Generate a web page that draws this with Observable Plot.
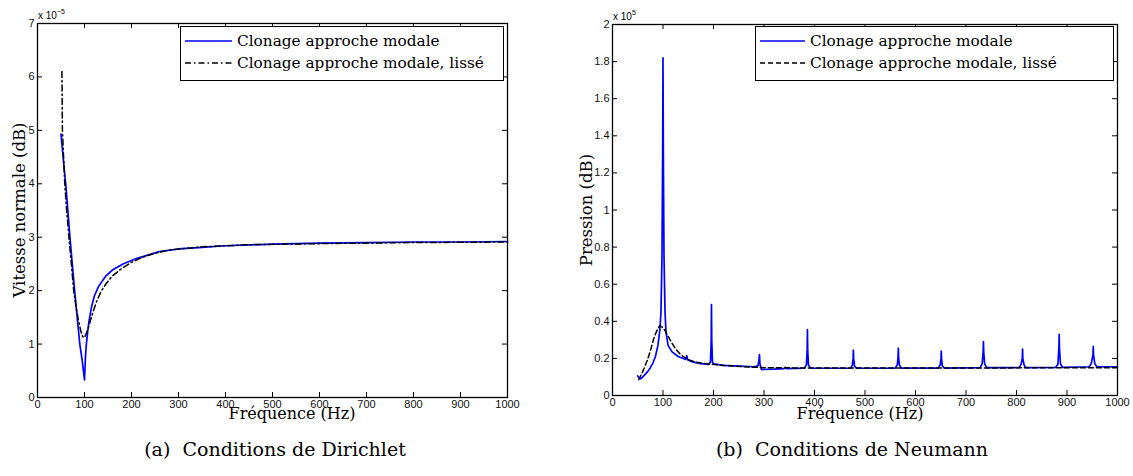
<!DOCTYPE html>
<html><head><meta charset="utf-8">
<script src="https://cdn.jsdelivr.net/npm/d3@7"></script>
<script src="https://cdn.jsdelivr.net/npm/@observablehq/plot@0.6"></script>
<style>
body{margin:0;background:#fff;}
#wrap{position:relative;width:1133px;height:476px;overflow:hidden;font-family:"DejaVu Serif",serif;color:#000;}
.leg{position:absolute;border:1.2px solid #000;background:#fff;box-sizing:border-box;font-size:15.3px;}
.row{position:absolute;left:4px;display:flex;align-items:center;height:20px;}
.row svg{margin-right:5px;}
.exp{position:absolute;font-family:"Liberation Sans",sans-serif;font-size:10px;}
.exp sup{font-size:7px;vertical-align:5px;}
.ylab{position:absolute;transform:translate(-50%,-50%) rotate(-90deg);font-size:16.5px;white-space:nowrap;}
.xlab{position:absolute;transform:translate(-50%,-50%);font-size:16px;white-space:nowrap;}
.cap{position:absolute;transform:translate(-50%,-50%);font-size:19px;white-space:pre;}
</style></head>
<body><div id="wrap"></div>
<script>
// ---------- data (y values in units of the axis multiplier) ----------
const xTicks = [0,100,200,300,400,500,600,700,800,900,1000];
const dirYTicks = [0,1,2,3,4,5,6,7];
const neuYTicks = [0,0.2,0.4,0.6,0.8,1,1.2,1.4,1.6,1.8,2];

// (a) Dirichlet — x1e-5
const dirBlueFreq = [50,55,60,65,69,74,79,85,90,95,100,102,104,107,110,115,121,130,145,160,182,210,259,300,350,400,500,600,700,800,900,1000];
const dirBlue     = [4.93,4.45,4.0,3.45,3.0,2.5,2.0,1.45,1.0,0.7,0.33,0.75,1.0,1.25,1.45,1.7,1.9,2.08,2.27,2.39,2.5,2.6,2.73,2.78,2.81,2.84,2.87,2.89,2.9,2.91,2.91,2.92];
const dirSmoothFreq = [52,53,55.5,58,62,67,72,77,82,87,92,96,100,104,108,113,118,125,135,145,160,180,200,225,250,280,350,450,600,800,1000];
const dirSmooth     = [6.1,5.0,4.5,4.0,3.5,3.0,2.5,2.0,1.7,1.45,1.25,1.14,1.12,1.2,1.3,1.45,1.6,1.78,1.98,2.12,2.28,2.42,2.53,2.63,2.7,2.76,2.82,2.86,2.88,2.9,2.91];

// (b) Neumann — x1e5
const neuBlueFreq = [50,53,56,60,65,70,75,80,85,90,94,96,98,99.3,100,100.7,102,104,106,110,118,130,145,147,149,160,175,190,194,195.5,196,196.5,198,200,220,250,280,288,290,291,292,295,320,340,342,344,380,384,385.5,386,386.5,388,392,472,475,476.5,477,477.5,479,483,560,564,565.5,566,566.5,568,572,645,649,650.5,651,651.5,653,657,728,732,734,734.5,735,737,741,805,809,811.5,812,812.5,815,818,878,882,884,884.5,885,887,891,944,948,951.5,952,952.5,955,959,1000];
const neuBlue     = [0.105,0.095,0.09,0.1,0.115,0.13,0.15,0.175,0.21,0.27,0.36,0.45,0.75,1.3,1.82,1.3,0.75,0.45,0.34,0.27,0.235,0.21,0.195,0.215,0.192,0.18,0.172,0.168,0.18,0.3,0.49,0.3,0.18,0.17,0.162,0.158,0.155,0.16,0.19,0.22,0.17,0.14,0.142,0.145,0.152,0.145,0.148,0.165,0.25,0.355,0.25,0.165,0.147,0.148,0.165,0.2,0.245,0.2,0.16,0.147,0.148,0.165,0.21,0.255,0.21,0.165,0.148,0.148,0.165,0.2,0.24,0.2,0.16,0.148,0.15,0.17,0.24,0.29,0.24,0.17,0.15,0.15,0.168,0.2,0.25,0.2,0.165,0.15,0.152,0.17,0.26,0.33,0.26,0.17,0.152,0.155,0.172,0.22,0.265,0.22,0.172,0.155,0.155];
const neuSmoothFreq = [52,60,69,76,82,88,93,98,104,110,116,125,135,148,165,190,220,260,300,400,600,800,1000];
const neuSmooth     = [0.085,0.13,0.19,0.25,0.31,0.35,0.375,0.37,0.35,0.32,0.29,0.25,0.22,0.195,0.18,0.17,0.162,0.155,0.15,0.148,0.148,0.149,0.15];

const legendLabels = ["Clonage approche modale","Clonage approche modale, lissé"];
const xLabel = "Fréquence (Hz)";
const captions = ["(a)  Conditions de Dirichlet","(b)  Conditions de Neumann"];
const yLabels = ["Vitesse normale (dB)","Pression (dB)"];

// ---------- drawing ----------
const wrap = document.getElementById("wrap");
const toRows = (fs, vs) => fs.map((f,i)=>({f, v: vs[i]}));

function panel({left, width, height, mL, mR, mT, mB, yDomain, yTicks, blue, smooth, dash}) {
  const iW = width - mL - mR, iH = height - mT - mB, tk = 5;
  const svg = Plot.plot({
    width, height, marginLeft: mL, marginRight: mR, marginTop: mT, marginBottom: mB,
    style: {fontFamily: "Liberation Sans, Arial, sans-serif", fontSize: "11px", background: "transparent", overflow: "visible"},
    x: {domain: [0,1000]},
    y: {domain: yDomain},
    marks: [
      Plot.line(blue, {x: "f", y: "v", stroke: "#0000ff", strokeWidth: 1.7}),
      Plot.line(smooth, {x: "f", y: "v", stroke: "#000", strokeWidth: 1.5, strokeDasharray: dash}),
      Plot.tickX(xTicks, {x: d=>d, insetTop: iH - tk, stroke: "#000"}),
      Plot.tickX(xTicks, {x: d=>d, insetBottom: iH - tk, stroke: "#000"}),
      Plot.tickY(yTicks, {y: d=>d, insetRight: iW - tk, stroke: "#000"}),
      Plot.tickY(yTicks, {y: d=>d, insetLeft: iW - tk, stroke: "#000"}),
      Plot.axisX(xTicks, {tickSize: 0, tickPadding: 3, label: null, tickFormat: d=>String(d), fill: "#111"}),
      Plot.axisY(yTicks, {tickSize: 0, tickPadding: 3, label: null, tickFormat: d=>String(d), fill: "#111"}),
      Plot.frame({stroke: "#000", strokeWidth: 1.3})
    ]
  });
  svg.style.position = "absolute";
  svg.style.left = left + "px";
  svg.style.top = "0px";
  wrap.appendChild(svg);
}

panel({left: 0, width: 540, height: 420, mL: 37, mR: 33, mT: 23, mB: 23,
  yDomain: [0,7], yTicks: dirYTicks,
  blue: toRows(dirBlueFreq, dirBlue), smooth: toRows(dirSmoothFreq, dirSmooth), dash: "6,3,1.5,3"});
panel({left: 560, width: 573, height: 420, mL: 52, mR: 16, mT: 24, mB: 25,
  yDomain: [0,2], yTicks: neuYTicks,
  blue: toRows(neuBlueFreq, neuBlue), smooth: toRows(neuSmoothFreq, neuSmooth), dash: "5,3"});

function add(text, cls, style, isHtml) {
  const d = document.createElement("div");
  d.className = cls;
  if (isHtml) d.innerHTML = text; else d.textContent = text;
  Object.assign(d.style, style);
  wrap.appendChild(d);
  return d;
}
// exponents
add("x 10<sup>−5</sup>", "exp", {left: "38px", top: "8px"}, true);
add("x 10<sup>5</sup>", "exp", {left: "613px", top: "9px"}, true);
// axis labels
add(yLabels[0], "ylab", {left: "19px", top: "210px"});
add(yLabels[1], "ylab", {left: "586px", top: "210px"});
add(xLabel, "xlab", {left: "292px", top: "413px"});
add(xLabel, "xlab", {left: "860px", top: "413px"});
// captions
add(captions[0], "cap", {left: "275px", top: "449px"});
add(captions[1], "cap", {left: "852px", top: "449px"});

// legends
function legend(left, top, width, lineW, dash) {
  const box = add("", "leg", {left: left+"px", top: top+"px", width: width+"px", height: "55px"});
  legendLabels.forEach((lab, i) => {
    const r = document.createElement("div");
    r.className = "row";
    r.style.top = (4 + i*22) + "px";
    const stroke = i === 0 ? "#0000ff" : "#000";
    const da = i === 0 ? "" : `stroke-dasharray="${dash}"`;
    r.innerHTML = `<svg width="${lineW}" height="10"><line x1="0" y1="5" x2="${lineW}" y2="5" stroke="${stroke}" stroke-width="1.6" ${da}/></svg>`;
    const s = document.createElement("span");
    s.textContent = lab;
    r.appendChild(s);
    box.appendChild(r);
  });
}
legend(180, 26, 324, 47, "6,3,1.5,3");
legend(755, 26, 359, 45, "5,3");
</script></body></html>
